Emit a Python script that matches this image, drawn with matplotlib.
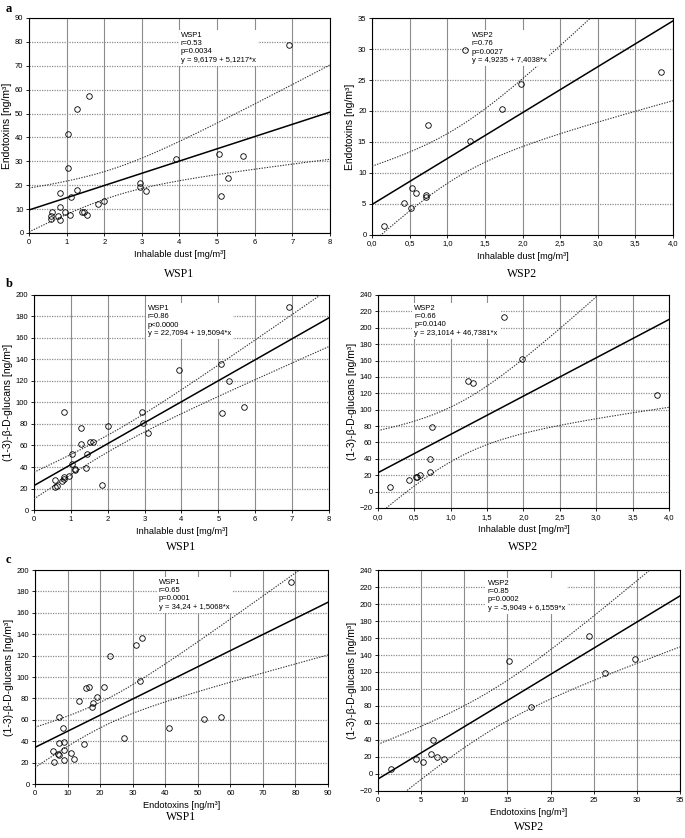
import matplotlib
matplotlib.use('Agg')
import matplotlib.pyplot as plt
from matplotlib.ticker import FuncFormatter
import numpy as np

plt.rcParams['font.family'] = ['Liberation Sans', 'DejaVu Sans']

# WSP1 samples: inhalable dust, endotoxins, glucans
dust1 = [0.58, 0.58, 0.62, 0.77, 0.82, 0.82, 0.82, 0.95, 1.04, 1.04, 1.10, 1.11, 1.28, 1.28, 1.42,
         1.45, 1.53, 1.59, 1.84, 2.00, 2.94, 2.95, 3.10, 3.92, 5.06, 5.10, 5.30, 5.69, 6.92]
endo1 = [7.1, 5.7, 8.8, 7.3, 5.6, 11.0, 16.6, 8.8, 27.3, 41.3, 7.5, 14.9, 17.9, 51.9, 8.9,
         8.7, 7.5, 57.2, 12.0, 13.4, 21.1, 19.1, 17.6, 31.0, 33.0, 15.6, 23.0, 32.2, 78.7]
gluc1 = [28, 21, 22, 27, 31, 29, 91, 32, 43, 52, 38, 37, 76, 61, 39,
         52, 63, 63, 23, 78, 91, 81, 72, 130, 136, 90, 120, 96, 189]

# WSP2 samples (in panel c the 20.3 / 213 sample sits under the text box)
dust2 = [0.16, 0.42, 0.52, 0.53, 0.58, 0.72, 0.72, 0.74, 1.24, 1.30, 1.73, 1.98, 3.84]
endo2 = [1.5, 5.2, 4.4, 7.6, 6.8, 6.1, 6.4, 17.7, 29.8, 15.2, 20.3, 24.4, 26.3]
gluc2 = [5.6, 14, 18, 18, 20, 24, 40, 79, 135, 133, 213, 162, 118.5]

# printed regression results
fits = {
    'a1': (9.6179, 5.1217, ['WSP1', 'r=0.53', 'p=0.0034', 'y = 9,6179 + 5,1217*x']),
    'a2': (4.9235, 7.4038, ['WSP2', 'r=0.76', 'p=0.0027', 'y = 4,9235 + 7,4038*x']),
    'b1': (22.7094, 19.5094, ['WSP1', 'r=0.86', 'p<0.0000', 'y = 22,7094 + 19,5094*x']),
    'b2': (23.1014, 46.7381, ['WSP2', 'r=0.66', 'p=0.0140', 'y = 23,1014 + 46,7381*x']),
    'c1': (34.24, 1.5068, ['WSP1', 'r=0.65', 'p=0.0001', 'y = 34,24 + 1,5068*x']),
    'c2': (-5.9049, 6.1559, ['WSP2', 'r=0.85', 'p=0.0002', 'y = -5,9049 + 6,1559*x']),
}
t_crit = {27: 2.052, 11: 2.201}

lab_dust = 'Inhalable dust [mg/m³]'
lab_endo = 'Endotoxins [ng/m³]'
lab_gluc = '(1-3)-β-D-glucans [ng/m³]'

fig = plt.figure(figsize=(6.85, 8.38), dpi=100)

panels = [
    # key, x, y, rect, xlim, xstep, ylim, ystep, xlabel, ylabel, comma, text pos, subtitle y
    ('a1', dust1, endo1, [0.0423, 0.7220, 0.4394, 0.2566], (0, 8), 1, (0, 90), 10, lab_dust, lab_endo, False, (0.505, 0.935), 0.673),
    ('a2', dust2, endo2, [0.5431, 0.7196, 0.4394, 0.2589], (0, 4), 0.5, (0, 35), 5, lab_dust, lab_endo, True, (0.332, 0.935), 0.673),
    ('b1', dust1, gluc1, [0.0496, 0.3914, 0.4307, 0.2566], (0, 8), 1, (0, 200), 20, lab_dust, lab_gluc, False, (0.386, 0.953), 0.347),
    ('b2', dust2, gluc2, [0.5518, 0.3938, 0.4248, 0.2542], (0, 4), 0.5, (-20, 240), 20, lab_dust, lab_gluc, True, (0.124, 0.953), 0.347),
    ('c1', endo1, gluc1, [0.0511, 0.0644, 0.4277, 0.2554], (0, 90), 10, (0, 200), 20, lab_endo, lab_gluc, False, (0.423, 0.958), 0.025),
    ('c2', endo2, gluc2, [0.5518, 0.0561, 0.4409, 0.2637], (0, 35), 5, (-20, 240), 20, lab_endo, lab_gluc, False, (0.364, 0.955), 0.013),
]

for key, xs, ys, rect, xlim, xstep, ylim, ystep, xlab, ylab, comma, tpos, suby in panels:
    ax = fig.add_axes(rect)
    x = np.array(xs, dtype=float)
    y = np.array(ys, dtype=float)
    a, b, lines = fits[key]

    # regression line with 95% confidence band
    n = len(x)
    xx = np.linspace(xlim[0], xlim[1], 200)
    yfit = a + b * xx
    resid = y - (a + b * x)
    s = np.sqrt(np.sum(resid ** 2) / (n - 2))
    sxx = np.sum((x - x.mean()) ** 2)
    half = t_crit[n - 2] * s * np.sqrt(1.0 / n + (xx - x.mean()) ** 2 / sxx)
    ax.plot(xx, yfit, color='black', lw=1.1, zorder=3)
    ax.plot(xx, yfit + half, color='#333333', lw=0.8, ls=(0, (1.2, 1.2)), zorder=3)
    ax.plot(xx, yfit - half, color='#333333', lw=0.8, ls=(0, (1.2, 1.2)), zorder=3)

    ax.plot(x, y, 'o', mfc='none', mec='black', ms=4, mew=0.6, zorder=4)

    ax.set_xlim(xlim)
    ax.set_ylim(ylim)
    ax.set_xticks(np.arange(xlim[0], xlim[1] + xstep / 2, xstep))
    ax.set_yticks(np.arange(ylim[0], ylim[1] + ystep / 2, ystep))
    if comma:
        ax.xaxis.set_major_formatter(FuncFormatter(lambda v, p: f'{v:.1f}'.replace('.', ',')))
    ax.tick_params(labelsize=5.5, length=2, width=0.6, pad=2)
    ax.xaxis.grid(True, color='#8c8c8c', lw=0.8, ls='-')
    ax.yaxis.grid(True, color='#8c8c8c', lw=0.9, ls=(0, (1, 1)))
    ax.set_axisbelow(True)
    for sp in ax.spines.values():
        sp.set_linewidth(0.8)
    ax.set_xlabel(xlab, fontsize=6.7, labelpad=3)
    ax.set_ylabel(ylab, fontsize=7.5, labelpad=2)

    ax.text(tpos[0], tpos[1], '\n'.join(lines), transform=ax.transAxes, fontsize=5.5,
            va='top', ha='left', linespacing=1.25, zorder=5,
            bbox=dict(facecolor='white', edgecolor='none', pad=1.5))

    cx = rect[0] + rect[2] / 2
    fig.text(cx, suby, lines[0], ha='center', va='center', fontsize=8.5,
             family='Liberation Serif')

for letter, ly in [('a', 0.997), ('b', 0.668), ('c', 0.339)]:
    fig.text(0.008, ly, letter, fontsize=9, fontweight='bold', family='Liberation Serif',
             va='top', ha='left')

fig.savefig('out.png', dpi=100)
